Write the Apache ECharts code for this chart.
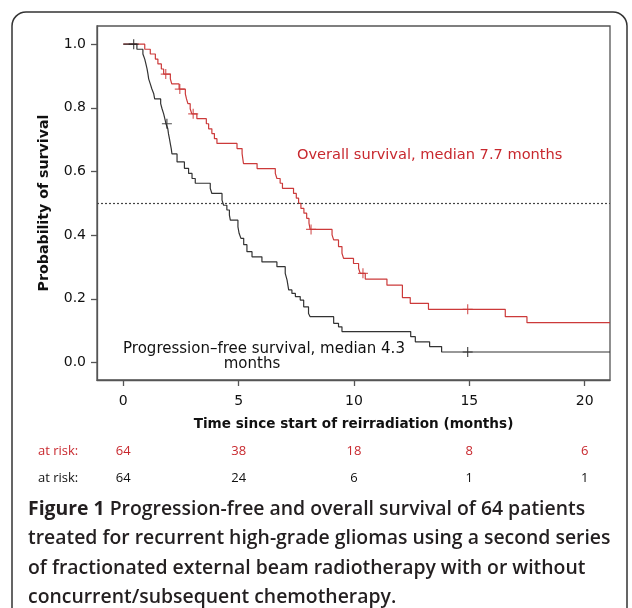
<!DOCTYPE html>
<html><head><meta charset="utf-8">
<script src="https://cdn.jsdelivr.net/npm/echarts@6/dist/echarts.min.js"></script>
<style>html,body{margin:0;padding:0;background:#fff}#c{width:632px;height:608px}</style>
</head><body><div id="c"></div>
<script>
// Overall survival (red)
const osTime = [0, 0.93, 1.17, 1.39, 1.5, 1.65, 1.75, 2.04, 2.1, 2.42, 2.69, 2.74, 2.8, 2.9, 2.97, 3.19, 3.6, 3.7, 3.84, 3.95, 4.06, 4.93, 5.15, 5.21, 5.8, 6.59, 6.66, 6.8, 6.9, 7.38, 7.5, 7.6, 7.7, 7.83, 7.95, 8.05, 8.1, 9.05, 9.12, 9.33, 9.48, 9.55, 9.98, 10.2, 10.27, 10.49, 11.43, 12.1, 12.44, 13.23, 16.56, 17.5, 21.1];
const osSurv = [1.0, 0.984, 0.969, 0.953, 0.938, 0.922, 0.906, 0.891, 0.875, 0.859, 0.844, 0.828, 0.813, 0.797, 0.781, 0.766, 0.75, 0.734, 0.719, 0.703, 0.688, 0.672, 0.656, 0.625, 0.609, 0.594, 0.578, 0.563, 0.547, 0.531, 0.516, 0.5, 0.484, 0.469, 0.453, 0.438, 0.418, 0.401, 0.385, 0.364, 0.343, 0.327, 0.311, 0.296, 0.28, 0.262, 0.243, 0.204, 0.186, 0.167, 0.144, 0.125, 0.125];
const osCensorTime = [1.84, 2.45, 3.03, 8.14, 10.39, 14.93];
const osCensorSurv = [0.906, 0.859, 0.781, 0.418, 0.28, 0.167];

// Progression-free survival (black)
const pfsTime = [0, 0.59, 0.85, 0.93, 0.98, 1.03, 1.07, 1.1, 1.17, 1.24, 1.32, 1.36, 1.62, 1.68, 1.75, 1.8, 1.85, 1.93, 1.96, 2.0, 2.04, 2.08, 2.11, 2.33, 2.65, 2.83, 2.98, 3.12, 3.77, 3.84, 4.28, 4.35, 4.49, 4.6, 4.64, 4.97, 5.02, 5.1, 5.22, 5.36, 5.58, 6.01, 6.66, 7.02, 7.1, 7.17, 7.31, 7.46, 7.67, 7.82, 8.03, 8.1, 9.12, 9.33, 9.48, 12.46, 12.66, 13.28, 13.8, 21.1];
const pfsSurv = [1.0, 0.984, 0.969, 0.953, 0.938, 0.922, 0.906, 0.891, 0.875, 0.859, 0.844, 0.828, 0.813, 0.797, 0.781, 0.766, 0.75, 0.734, 0.718, 0.703, 0.687, 0.671, 0.655, 0.63, 0.61, 0.594, 0.578, 0.563, 0.547, 0.531, 0.51, 0.494, 0.479, 0.463, 0.447, 0.426, 0.406, 0.39, 0.37, 0.348, 0.332, 0.316, 0.301, 0.28, 0.259, 0.228, 0.217, 0.207, 0.196, 0.175, 0.154, 0.144, 0.123, 0.112, 0.097, 0.081, 0.065, 0.05, 0.033, 0.033];
const pfsCensorTime = [0.45, 1.89, 14.93];
const pfsCensorSurv = [1.0, 0.75, 0.033];

const xTicks = [0, 5, 10, 15, 20];
const yTicks = [0, 0.2, 0.4, 0.6, 0.8, 1.0];
const riskTimes = [0, 5, 10, 15, 20];
const osRisk = [64, 38, 18, 8, 6];
const pfsRisk = [64, 24, 6, 1, 1];

const RED = '#c8282e';
const LINE_RED = '#cc3a3a';
const CROSS = 'path://M5 0 L5 10 M0 5 L10 5';

const pair = (a, b) => a.map((v, i) => [v, b[i]]);

const chart = echarts.init(document.getElementById('c'), null, {renderer: 'canvas'});
const option = {
  animation: false,
  backgroundColor: '#fff',
  grid: {left: 97, right: 22, top: 26, bottom: 228, show: true, borderColor: '#555', borderWidth: 1.3},
  xAxis: {
    type: 'value', min: -1.14, max: 21.1,
    name: 'Time since start of reirradiation (months)', nameLocation: 'middle', nameGap: 37,
    nameTextStyle: {fontFamily: 'DejaVu Sans', fontWeight: 'bold', fontSize: 13.6, color: '#111'},
    axisLine: {show: true, onZero: false, lineStyle: {color: '#555', width: 1.3}},
    axisTick: {show: true, length: 6, customValues: xTicks, lineStyle: {color: '#555', width: 1.3}},
    axisLabel: {customValues: xTicks, fontFamily: 'DejaVu Sans', fontSize: 14, color: '#111', margin: 14},
    splitLine: {show: false}
  },
  yAxis: {
    type: 'value', min: -0.055, max: 1.057,
    name: 'Probability of survival', nameLocation: 'middle', nameGap: 46,
    nameTextStyle: {fontFamily: 'DejaVu Sans', fontWeight: 'bold', fontSize: 14.2, color: '#111'},
    axisLine: {show: true, onZero: false, lineStyle: {color: '#555', width: 1.3}},
    axisTick: {show: true, length: 6, customValues: yTicks, lineStyle: {color: '#555', width: 1.3}},
    axisLabel: {customValues: yTicks, formatter: v => v.toFixed(1), fontFamily: 'DejaVu Sans', fontSize: 14, color: '#111', margin: 11},
    splitLine: {show: false}
  },
  series: [
    {type: 'line', step: 'end', data: pair(osTime, osSurv), showSymbol: false, lineStyle: {color: LINE_RED, width: 1.2}, z: 3,
     markLine: {silent: true, symbol: 'none', label: {show: false}, lineStyle: {color: '#444', type: [2, 2], width: 1.2}, data: [{yAxis: 0.5}]}},
    {type: 'line', step: 'end', data: pair(pfsTime, pfsSurv), showSymbol: false, lineStyle: {color: '#333', width: 1.2}, z: 4},
    {type: 'scatter', data: pair(osCensorTime, osCensorSurv), symbol: CROSS, symbolSize: 10,
     itemStyle: {color: 'none', borderColor: LINE_RED, borderWidth: 1.2}, z: 5},
    {type: 'scatter', data: pair(pfsCensorTime, pfsCensorSurv), symbol: CROSS, symbolSize: 10,
     itemStyle: {color: 'none', borderColor: '#222', borderWidth: 1.2}, z: 6}
  ]
};
chart.setOption(option);

const gx = t => chart.convertToPixel({xAxisIndex: 0}, t);
const riskFont = '13px "Open Sans"';
const graphics = [
  {type: 'rect', shape: {x: 12, y: 12, width: 615, height: 620, r: 14}, style: {fill: 'none', stroke: '#333', lineWidth: 1.5}, silent: true, z: 100},
  {type: 'text', x: 297, y: 155, style: {text: 'Overall survival, median 7.7 months', font: '14.6px "DejaVu Sans"', fill: RED, textVerticalAlign: 'middle'}, z: 100},
  {type: 'text', x: 264, y: 349, style: {text: 'Progression\u2013free survival, median 4.3', font: '15px "DejaVu Sans"', fill: '#111', textAlign: 'center', textVerticalAlign: 'middle'}, z: 100},
  {type: 'text', x: 252, y: 364, style: {text: 'months', font: '15px "DejaVu Sans"', fill: '#111', textAlign: 'center', textVerticalAlign: 'middle'}, z: 100},
  {type: 'text', x: 38, y: 451, style: {text: 'at risk:', font: riskFont, fill: RED, textVerticalAlign: 'middle'}, z: 100},
  {type: 'text', x: 38, y: 478, style: {text: 'at risk:', font: riskFont, fill: '#111', textVerticalAlign: 'middle'}, z: 100}
];
riskTimes.forEach((t, i) => {
  graphics.push({type: 'text', x: gx(t), y: 451, style: {text: String(osRisk[i]), font: riskFont, fill: RED, textAlign: 'center', textVerticalAlign: 'middle'}, z: 100});
  graphics.push({type: 'text', x: gx(t), y: 478, style: {text: String(pfsRisk[i]), font: riskFont, fill: '#111', textAlign: 'center', textVerticalAlign: 'middle'}, z: 100});
});
const capLines = [
  [{t: 'Figure 1 ', b: true}, {t: 'Progression-free and overall survival of 64 patients'}],
  [{t: 'treated for recurrent high-grade gliomas using a second series'}],
  [{t: 'of fractionated external beam radiotherapy with or without'}],
  [{t: 'concurrent/subsequent chemotherapy.'}]
];
capLines.forEach((line, i) => {
  const txt = line.map(s => s.b ? '{b|' + s.t + '}' : '{n|' + s.t + '}').join('');
  graphics.push({type: 'text', x: 28, y: 509 + i * 29.5, style: {
    text: txt, textVerticalAlign: 'middle',
    rich: {b: {fontFamily: 'Open Sans', fontSize: 19.4, fontWeight: 'bold', fill: '#231f20'},
           n: {fontFamily: 'Open Sans', fontSize: 19.4, fontWeight: 600, fill: '#231f20'}}
  }, z: 100});
});
chart.setOption({graphic: graphics});
</script>
</body></html>
